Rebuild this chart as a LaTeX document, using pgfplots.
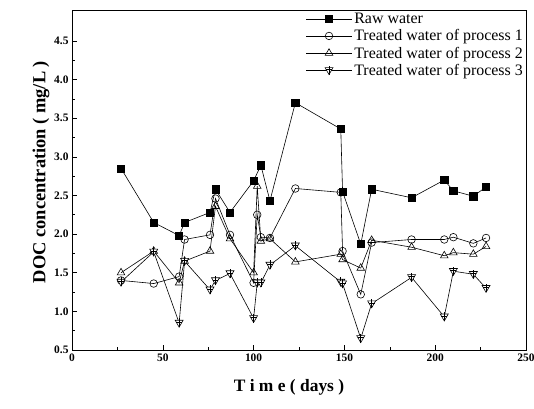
\documentclass[border=0pt]{standalone}
\usepackage{fontspec}
\setmainfont{Liberation Serif}
\usepackage{pgfplots}
\pgfplotsset{compat=1.18}
\usetikzlibrary{calc}

% down triangle with a cross, as in the original
\pgfdeclareplotmark{dtriplus}{%
  \pgfpathmoveto{\pgfqpoint{0pt}{-\pgfplotmarksize}}%
  \pgfpathlineto{\pgfqpoint{0.95\pgfplotmarksize}{0.65\pgfplotmarksize}}%
  \pgfpathlineto{\pgfqpoint{-0.95\pgfplotmarksize}{0.65\pgfplotmarksize}}%
  \pgfpathclose
  \pgfusepathqfillstroke
  \pgfpathmoveto{\pgfqpoint{0pt}{-\pgfplotmarksize}}%
  \pgfpathlineto{\pgfqpoint{0pt}{1.1\pgfplotmarksize}}%
  \pgfpathmoveto{\pgfqpoint{-0.7\pgfplotmarksize}{0.15\pgfplotmarksize}}%
  \pgfpathlineto{\pgfqpoint{0.7\pgfplotmarksize}{0.15\pgfplotmarksize}}%
  \pgfusepathqstroke
}

\begin{document}
\begin{tikzpicture}
\begin{axis}[
    name=ax,
    scale only axis,
    width=454bp, height=340bp,
    xmin=0, xmax=250, ymin=0.5, ymax=4.9,
    xtick={0,50,100,150,200,250},
    ytick={0.5,1.0,1.5,2.0,2.5,3.0,3.5,4.0,4.5},
    minor x tick num=1, minor y tick num=1,
    xtick pos=bottom, ytick pos=left,
    major tick length=5bp, minor tick length=3bp,
    tick style={black, line width=0.6pt},
    axis line style={line width=0.8pt},
    /pgf/number format/assume math mode=true,
    yticklabel style={/pgf/number format/fixed, /pgf/number format/fixed zerofill, /pgf/number format/precision=1},
    tick label style={font=\bfseries\fontsize{11.5}{13}\selectfont},
    xlabel={T i m e ( days )},
    ylabel={DOC concentration ( mg/L )},
    xlabel style={font=\bfseries\fontsize{17.5}{20}\selectfont, yshift=-11bp, xshift=-10bp},
    ylabel style={font=\bfseries\fontsize{18.5}{21}\selectfont, yshift=-2bp, xshift=8bp},
    legend style={at={(1,1)}, anchor=north east, draw=none, fill=none,
        font=\fontsize{16}{17}\selectfont, row sep=0.5pt, inner sep=1pt},
    legend cell align=left,
    legend image code/.code={\draw[mark repeat=2,mark phase=2] plot coordinates {(0bp,0bp) (23bp,0bp) (46bp,0bp)};},
    every axis plot/.append style={black, line width=0.6pt, mark options={solid, line width=0.6pt}},
]

% Raw water
\addplot[mark=square*, mark size=3.6bp] coordinates {
 (27,2.85) (45,2.15) (59,1.98) (62,2.15) (76,2.28) (79,2.58) (87,2.28)
 (100,2.69) (104,2.89) (109,2.43) (123,3.70) (148,3.36) (149,2.55)
 (159,1.87) (165,2.58) (187,2.47) (205,2.70) (210,2.56) (221,2.49) (228,2.61)};

% Process 1
\addplot[mark=o, mark size=3.8bp, mark options={fill=white}] coordinates {
 (27,1.40) (45,1.36) (59,1.45) (62,1.93) (76,1.99) (79,2.46) (87,1.99)
 (100,1.37) (102,2.25) (104,1.96) (109,1.95) (123,2.59) (148,2.54) (149,1.78)
 (159,1.22) (165,1.89) (187,1.93) (205,1.93) (210,1.96) (221,1.88) (228,1.95)};

% Process 2
\addplot[mark=triangle, mark size=4.4bp, mark options={fill=white}] coordinates {
 (27,1.50) (45,1.78) (59,1.37) (62,1.65) (76,1.78) (79,2.36) (87,1.94)
 (100,1.50) (102,2.62) (104,1.91) (109,1.94) (123,1.64) (148,1.74) (149,1.67)
 (159,1.56) (165,1.92) (187,1.83) (205,1.72) (210,1.76) (221,1.74) (228,1.84)};

% Process 3
\addplot[mark=dtriplus, mark size=4.2bp, mark options={fill=white}] coordinates {
 (27,1.38) (45,1.77) (59,0.85) (62,1.65) (76,1.28) (79,1.40) (87,1.49)
 (100,0.91) (102,1.37) (104,1.37) (109,1.60) (123,1.85) (148,1.38) (149,1.36)
 (159,0.65) (165,1.10) (187,1.44) (205,0.93) (210,1.52) (221,1.48) (228,1.30)};

\legend{Raw water, Treated water of process 1, Treated water of process 2, Treated water of process 3}
\end{axis}
\pgfresetboundingbox
\path ($(ax.south west)+(-72bp,-59bp)$) rectangle ($(ax.north east)+(8bp,10bp)$);
\end{tikzpicture}
\end{document}
